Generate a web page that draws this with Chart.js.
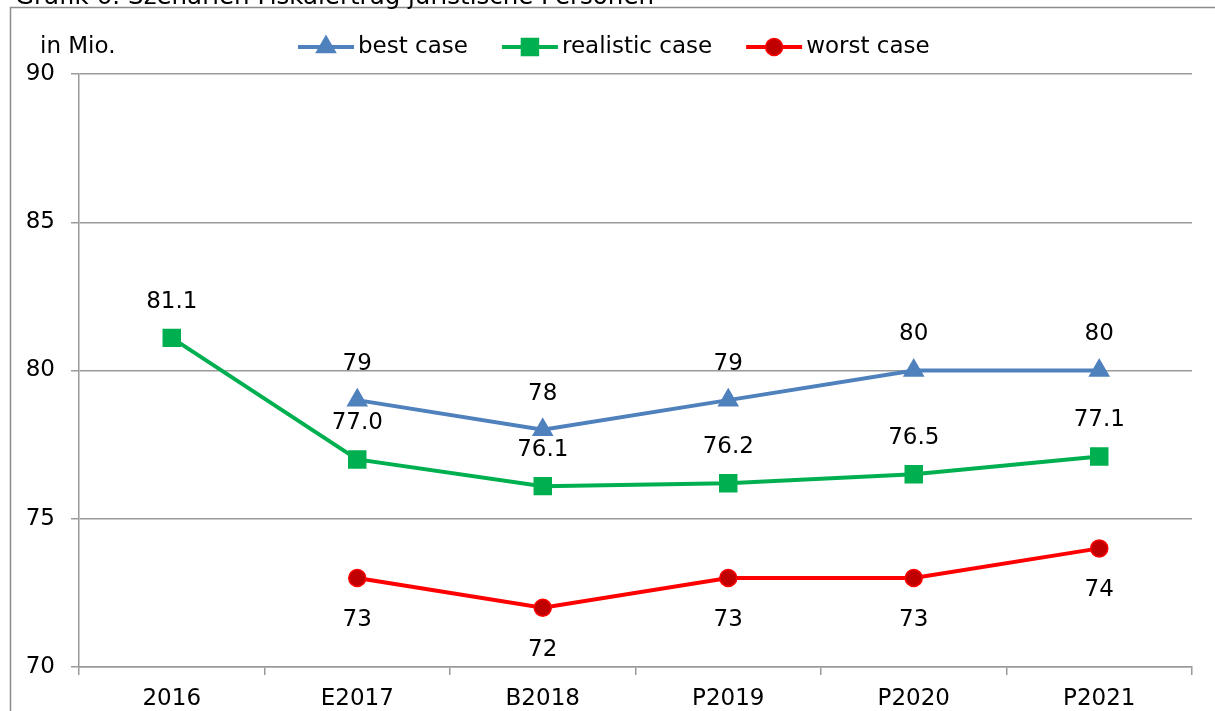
<!DOCTYPE html>
<html>
<head>
<meta charset="utf-8">
<style>
  html, body { margin: 0; padding: 0; background: #fff; overflow: hidden; }
  #wrap { position: relative; width: 1215px; height: 711px; }
</style>
<script src="https://cdn.jsdelivr.net/npm/chart.js@4.4.0/dist/chart.umd.min.js"></script>
</head>
<body>
<div id="wrap"><canvas id="chart" width="1215" height="711"></canvas></div>
<script>
// Daten
const categories = ['2016', 'E2017', 'B2018', 'P2019', 'P2020', 'P2021'];
const bestCase = [null, 79, 78, 79, 80, 80];
const realisticCase = [81.1, 77.0, 76.1, 76.2, 76.5, 77.1];
const worstCase = [null, 73, 72, 73, 73, 74];
const yTicks = [70, 75, 80, 85, 90];
const seriesNames = ['best case', 'realistic case', 'worst case'];
const titleText = 'Grafik 6: Szenarien Fiskalertrag juristische Personen';
const unitText = 'in Mio.';

const FONT = '"DejaVu Sans", sans-serif';
const FS = 23;
const GRID = '#9a9a9a';

// Marker zeichnen (auch für die Legende)
function drawMarker(ctx, style, x, y, r, fill, stroke, bw) {
    ctx.save();
    ctx.beginPath();
    if (style === 'triangle') {
        ctx.moveTo(x, y - r);
        ctx.lineTo(x + r * 0.866, y + r * 0.5);
        ctx.lineTo(x - r * 0.866, y + r * 0.5);
        ctx.closePath();
    } else if (style === 'rect') {
        const s = r * Math.SQRT1_2;
        ctx.rect(x - s, y - s, 2 * s, 2 * s);
    } else {
        ctx.arc(x, y, r, 0, Math.PI * 2);
    }
    ctx.fillStyle = fill;
    ctx.fill();
    if (bw > 0) {
        ctx.lineWidth = bw;
        ctx.strokeStyle = stroke;
        ctx.stroke();
    }
    ctx.restore();
}

// Rahmen, Titel und Einheit
const framePlugin = {
    id: 'frame',
    beforeDraw(chart) {
        const ctx = chart.ctx;
        ctx.save();
        ctx.fillStyle = '#fff';
        ctx.fillRect(0, 0, chart.width, chart.height);
        ctx.strokeStyle = '#8c8c8c';
        ctx.lineWidth = 1.5;
        ctx.beginPath();
        ctx.moveTo(10.5, chart.height);
        ctx.lineTo(10.5, 7.5);
        ctx.lineTo(chart.width + 5, 7.5);
        ctx.stroke();

        ctx.fillStyle = '#000';
        ctx.font = '24.5px ' + FONT;
        ctx.textAlign = 'left';
        ctx.textBaseline = 'alphabetic';
        ctx.fillText(titleText, 15, 4);
        ctx.font = FS + 'px ' + FONT;
        ctx.textBaseline = 'middle';
        ctx.fillText(unitText, 40, 47);
        ctx.restore();
    },
    afterDraw(chart) {
        // Legende
        const ctx = chart.ctx;
        ctx.save();
        ctx.font = FS + 'px ' + FONT;
        ctx.textBaseline = 'middle';
        ctx.textAlign = 'left';
        let x = 298;
        const y = 47;
        chart.data.datasets.forEach(ds => {
            ctx.strokeStyle = ds.borderColor;
            ctx.lineWidth = 4;
            ctx.beginPath();
            ctx.moveTo(x, y);
            ctx.lineTo(x + 56, y);
            ctx.stroke();
            drawMarker(ctx, ds.pointStyle, x + 28, y, ds.pointRadius, ds.pointBackgroundColor, ds.pointBorderColor, ds.pointBorderWidth);
            ctx.fillStyle = '#000';
            ctx.fillText(ds.label, x + 60, y);
            x += 60 + ctx.measureText(ds.label).width + 34;
        });
        ctx.restore();
    }
};

// Datenbeschriftungen
const labelPlugin = {
    id: 'pointLabels',
    afterDatasetsDraw(chart) {
        const ctx = chart.ctx;
        ctx.save();
        ctx.font = FS + 'px ' + FONT;
        ctx.fillStyle = '#000';
        ctx.textAlign = 'center';
        ctx.textBaseline = 'middle';
        chart.data.datasets.forEach((ds, i) => {
            const meta = chart.getDatasetMeta(i);
            meta.data.forEach((pt, j) => {
                const v = ds.data[j];
                if (v === null || v === undefined) return;
                ctx.fillText(v.toFixed(ds.labelDecimals), pt.x, pt.y + ds.labelOffset);
            });
        });
        ctx.restore();
    }
};

function series(label, data, color, style, radius, fill, border, decimals, offset) {
    return {
        label: label,
        data: data,
        borderColor: color,
        borderWidth: 4,
        pointStyle: style,
        pointRadius: radius,
        pointHoverRadius: radius,
        pointBackgroundColor: fill,
        pointBorderColor: border,
        pointBorderWidth: 1.5,
        tension: 0,
        fill: false,
        labelDecimals: decimals,
        labelOffset: offset
    };
}

new Chart(document.getElementById('chart'), {
    type: 'line',
    data: {
        labels: categories,
        datasets: [
            series(seriesNames[0], bestCase, '#4F81BD', 'triangle', 11, '#4F81BD', '#4F81BD', 0, -36),
            series(seriesNames[1], realisticCase, '#00B050', 'rect', 12, '#00B050', '#00B050', 1, -36),
            series(seriesNames[2], worstCase, '#FF0000', 'circle', 8.5, '#C00000', '#FF0000', 0, 42)
        ]
    },
    options: {
        responsive: false,
        animation: false,
        devicePixelRatio: 1,
        layout: { padding: { top: 74, right: 23, left: 0, bottom: 0 } },
        plugins: {
            legend: { display: false },
            title: { display: false },
            tooltip: { enabled: false }
        },
        scales: {
            x: {
                offset: true,
                afterFit: s => { s.height = 44; },
                grid: {
                    offset: true,
                    drawOnChartArea: false,
                    drawTicks: true,
                    tickLength: 8,
                    color: GRID,
                    lineWidth: 1.5
                },
                border: { display: true, color: GRID, width: 1.5 },
                ticks: { color: '#000', font: { family: FONT, size: FS }, padding: 10, maxRotation: 0 }
            },
            y: {
                min: 70,
                max: 90,
                afterFit: s => { s.width = 79; },
                afterBuildTicks: s => { s.ticks = yTicks.map(v => ({ value: v })); },
                grid: {
                    color: GRID,
                    lineWidth: 1.5,
                    tickLength: 8,
                    drawTicks: true
                },
                border: { display: true, color: GRID, width: 1.5 },
                ticks: { color: '#000', font: { family: FONT, size: FS }, padding: 16 }
            }
        }
    },
    plugins: [framePlugin, labelPlugin]
});
</script>
</body>
</html>
